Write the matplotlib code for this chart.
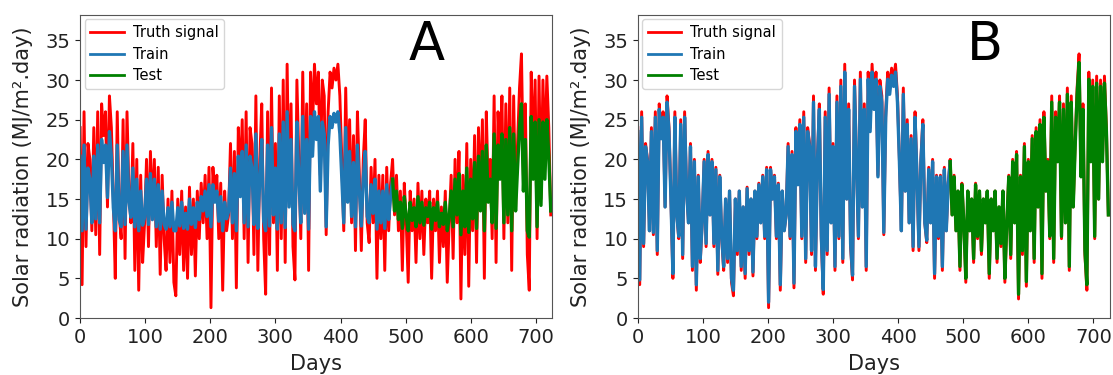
import numpy as np
import matplotlib
matplotlib.use("Agg")
import matplotlib.pyplot as plt

# Daily solar radiation, sampled every 3 days (day 0 .. 723)
truth = [
    24, 4.2, 26, 9, 22, 20, 11, 24, 10.5, 26, 8, 27, 23, 26, 14, 28,
    24, 15, 5, 26, 13, 10, 25, 7.5, 26, 16, 12, 22, 6, 20, 3.5, 18,
    7, 12, 20, 9, 21, 13, 20, 9, 19, 5.5, 18, 10, 6, 15, 7, 16,
    4.5, 2.8, 15, 8, 16, 6, 14, 5, 16.5, 8, 15, 5.3, 16, 10, 17, 12,
    18, 10, 19, 1.3, 19, 15, 18, 10, 17, 3.5, 16, 11, 13, 22, 10, 21,
    3.8, 24, 17, 25, 10, 26, 7, 24, 22, 8, 28, 6, 20, 27, 10, 3.0,
    26, 8, 29, 12, 22, 6, 28, 10, 30, 7, 32, 15, 27, 9, 4.8, 30,
    20, 10, 31, 14, 27, 6, 31, 24, 32, 27, 31, 18, 30, 28, 10.5, 26,
    31, 29, 31.5, 30, 32, 28, 20, 11, 29, 16, 25, 12, 23, 8.5, 26, 18,
    8.5, 20, 25, 12, 9.5, 19, 12, 20, 5, 18, 10, 18, 6, 19, 11, 17,
    20, 13, 18, 11, 16, 6, 17, 12, 4.5, 16, 11, 15, 7, 17, 10, 16,
    8, 15, 12, 16, 5, 15, 11, 16, 7, 14, 9, 16, 4.5, 12, 18, 7.5,
    20, 12, 21, 2.4, 18, 8, 22, 4, 20, 11, 23, 7, 24, 14, 25, 5,
    26, 16, 20, 10, 28, 7, 26, 20, 28, 10, 27, 12, 29, 6, 28, 14,
    22, 29, 33.3, 18, 27, 8, 3.5, 31, 20, 30, 10, 30.5, 15, 30, 20, 30.5,
    24, 13,
]

# Model A predictions (train part then test part share the same index grid)
pred_a = [
    20.4, 11, 21.8, 11.2, 18.9, 17.5, 12, 20.4, 12.5, 21.8, 12, 22.5, 19.6, 21.8, 15.2, 23.5,
    20.4, 13.9, 11, 21.8, 12.4, 11.5, 21, 11.8, 21.8, 14.6, 12.7, 18.9, 11.5, 17.5, 11, 16,
    11.7, 12.7, 17.5, 11.8, 18.2, 12.4, 17.5, 11.5, 16.8, 11.2, 16, 11.8, 11.2, 13.9, 11.5, 14.6,
    11, 11, 13.9, 11.6, 14.6, 11.3, 13.2, 11.2, 15, 11.8, 13.9, 11.4, 14.6, 12.4, 15.3, 13.5,
    16, 12.8, 16.8, 11.5, 16.8, 14.6, 16, 12.2, 15.3, 11, 14.6, 12.5, 13.4, 18.9, 12, 18.2,
    11, 20.4, 15.3, 21, 12, 21.8, 11.5, 20.4, 18.9, 11.8, 23.2, 11.3, 17.5, 22.5, 12.2, 11,
    21.8, 11.6, 24, 13, 18.9, 11.2, 23.2, 12, 24.7, 11.4, 26, 14, 22.5, 11.8, 11, 24.7,
    17.5, 12, 25.4, 13.2, 22.5, 11.2, 25.4, 20.4, 26, 22.5, 25.4, 16, 24.7, 23.2, 11.5, 21.8,
    25.4, 24, 25.8, 24.7, 26, 23.2, 17.5, 12, 24, 14.6, 21, 12.8, 19.6, 11.5, 21.8, 16,
    11.6, 17.5, 21, 12.8, 12, 16.8, 13.2, 17.5, 11.2, 16, 12, 16, 11.3, 16.8, 12.4, 15.3,
    17.5, 13.5, 16, 12.4, 14.6, 11.3, 15.3, 12.8, 11, 14.6, 12.3, 13.9, 11.5, 15.3, 12, 14.6,
    11.7, 13.9, 12.8, 14.6, 11.2, 13.9, 12.3, 14.6, 11.5, 13.2, 11.8, 14.6, 11, 12.7, 16, 11.5,
    17.5, 13, 18.2, 10.5, 16, 11.5, 18.9, 10.8, 17.5, 12.5, 19.6, 11.3, 20.4, 13.5, 21, 11,
    21.8, 14.6, 17.5, 12, 23.2, 11.3, 21.8, 17.5, 23.2, 12, 22.5, 13, 24, 11, 23.2, 13.5,
    18.9, 24, 27, 16, 22.5, 11, 10.2, 25.4, 17.5, 24.7, 11.5, 25, 14.2, 24.7, 17.5, 25,
    20.4, 13.5,
]

# Model B predictions
pred_b = [
    23.5, 4.8, 25.3, 9.4, 21.6, 19.7, 11, 23.5, 10.8, 25.3, 8.5, 26.3, 22.6, 25.3, 14, 27.2,
    23.5, 15, 5.6, 25.3, 13, 10.3, 24.4, 8, 25.3, 16, 12, 21.6, 6.5, 19.7, 4.2, 17.8,
    7.5, 12, 19.7, 9.4, 20.6, 13, 19.7, 9.4, 18.7, 6, 17.8, 10.3, 6.5, 15, 7.5, 16,
    5, 3.5, 15, 8.5, 16, 6.5, 14, 5.6, 16.3, 8.5, 15, 5.8, 16, 10.3, 16.8, 12,
    17.8, 10.3, 18.7, 2, 18.7, 15, 17.8, 10.3, 16.8, 4.2, 16, 11, 13, 21.6, 10.3, 20.6,
    4.4, 23.5, 16.8, 24.4, 10.3, 25.3, 7.5, 23.5, 21.6, 8.5, 27.2, 6.5, 19.7, 26.3, 10.3, 3.6,
    25.3, 8.5, 28.2, 12, 21.6, 6.5, 27.2, 10.3, 29.2, 7.5, 31, 15, 26.3, 9.4, 5.4, 29.2,
    19.7, 10.3, 30.1, 14, 26.3, 6.5, 30.1, 23.5, 31, 26.3, 30.1, 17.8, 29.2, 27.2, 10.8, 25.3,
    30.1, 28.2, 30.6, 29.2, 31, 27.2, 19.7, 11, 28.2, 16, 24.4, 12, 22.6, 9, 25.3, 17.8,
    9, 19.7, 24.4, 12, 9.8, 18.7, 12, 19.7, 5.6, 17.8, 10.3, 17.8, 6.5, 18.7, 11, 16.8,
    19.7, 13, 17.8, 11, 16, 6.5, 16.8, 12, 5, 16, 11, 15, 7.5, 16.8, 10.3, 16,
    8.5, 15, 12, 16, 5.6, 15, 11, 16, 7.5, 14, 9.4, 16, 5, 12, 17.8, 8,
    19.7, 12, 20.6, 3, 17.8, 8.5, 21.6, 4.6, 19.7, 11, 22.6, 7.5, 23.5, 14, 24.4, 5.6,
    25.3, 16, 19.7, 10.3, 27.2, 7.5, 25.3, 19.7, 27.2, 10.3, 26.3, 12, 28.2, 6.5, 27.2, 14,
    21.6, 28.2, 32.2, 17.8, 26.3, 8.5, 4.2, 30.1, 19.7, 29.2, 10.3, 29.6, 15, 29.2, 19.7, 29.6,
    23.5, 13,
]

day_step = 3
split_day = 480
panel_labels = ["A", "B"]
series_names = ["Truth signal", "Train", "Test"]
x_ticks = [0, 100, 200, 300, 400, 500, 600, 700]
y_ticks = [0, 5, 10, 15, 20, 25, 30, 35]

days = np.arange(len(truth)) * day_step
split_idx = int(np.searchsorted(days, split_day))

fig = plt.figure(figsize=(11.13, 3.75), dpi=100)
axes = [fig.add_axes([0.072, 0.152, 0.424, 0.808]),
        fig.add_axes([0.573, 0.152, 0.424, 0.808])]

for ax, pred, lab in zip(axes, [pred_a, pred_b], panel_labels):
    pred = np.asarray(pred)
    ax.plot(days, truth, color="red", lw=2.1, label=series_names[0])
    ax.plot(days[:split_idx + 1], pred[:split_idx + 1], color="#1f77b4", lw=2.4,
            label=series_names[1])
    ax.plot(days[split_idx:], pred[split_idx:], color="green", lw=2.4,
            label=series_names[2])
    ax.set_xlim(0, 725)
    ax.set_ylim(0, 38.2)
    ax.set_xticks(x_ticks)
    ax.set_yticks(y_ticks)
    ax.tick_params(labelsize=14, colors="#222222")
    for s in ax.spines.values():
        s.set_color("#555555")
    ax.set_xlabel("Days", fontsize=15, labelpad=5, color="#222222")
    ax.set_ylabel("Solar radiation (MJ/m\u00b2.day)", fontsize=15, labelpad=9,
                  color="#222222")
    ax.text(0.735, 0.90, lab, transform=ax.transAxes, fontsize=38,
            ha="center", va="center")
    leg = ax.legend(loc="upper left", fontsize=10.5, handlelength=2.3,
                    handletextpad=0.6, borderaxespad=0.3, labelspacing=0.45)
    for h in leg.get_lines():
        h.set_linewidth(2.0)

fig.savefig("out.png", dpi=100)
